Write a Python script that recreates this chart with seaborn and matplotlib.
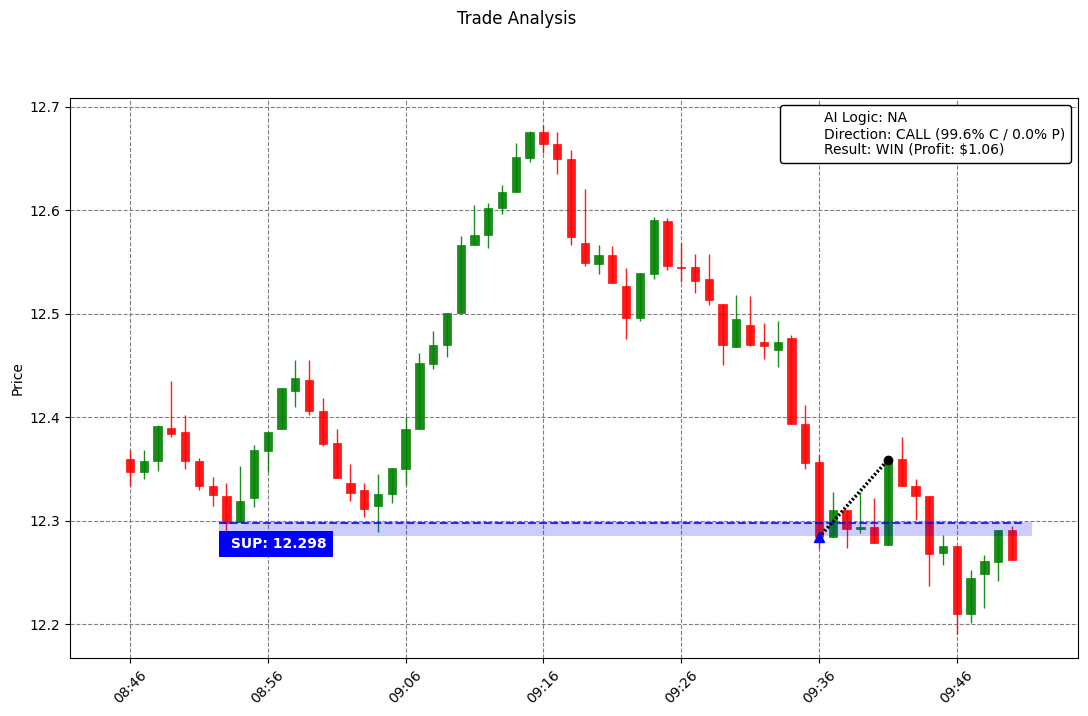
import datetime as dt
import pandas as pd
import numpy as np
import matplotlib
matplotlib.use('Agg')
import matplotlib.pyplot as plt
import matplotlib.dates as mdates
import seaborn as sns

# Dados das velas (1 minuto)
start_time = '2024-01-01 08:46'
opens = [12.360, 12.347, 12.358, 12.390, 12.386, 12.358, 12.334, 12.324, 12.299, 12.322,
         12.367, 12.389, 12.425, 12.436, 12.406, 12.375, 12.337, 12.330, 12.314, 12.326,
         12.350, 12.389, 12.452, 12.470, 12.501, 12.567, 12.576, 12.602, 12.618, 12.651,
         12.676, 12.664, 12.650, 12.569, 12.548, 12.557, 12.527, 12.496, 12.539, 12.590,
         12.545, 12.545, 12.534, 12.510, 12.468, 12.489, 12.473, 12.465, 12.477, 12.394,
         12.357, 12.284, 12.310, 12.292, 12.294, 12.277, 12.360, 12.334, 12.324, 12.269,
         12.276, 12.210, 12.249, 12.260, 12.291]
highs = [12.368, 12.368, 12.393, 12.435, 12.402, 12.361, 12.342, 12.337, 12.353, 12.373,
         12.386, 12.428, 12.455, 12.455, 12.419, 12.389, 12.355, 12.337, 12.345, 12.351,
         12.400, 12.462, 12.483, 12.501, 12.575, 12.605, 12.607, 12.625, 12.665, 12.677,
         12.683, 12.676, 12.658, 12.621, 12.567, 12.566, 12.544, 12.540, 12.594, 12.593,
         12.569, 12.558, 12.558, 12.510, 12.518, 12.517, 12.491, 12.493, 12.480, 12.412,
         12.364, 12.328, 12.310, 12.328, 12.322, 12.359, 12.381, 12.340, 12.324, 12.286,
         12.276, 12.252, 12.267, 12.291, 12.295]
lows = [12.334, 12.340, 12.348, 12.381, 12.350, 12.330, 12.314, 12.290, 12.299, 12.313,
        12.347, 12.389, 12.410, 12.402, 12.372, 12.341, 12.319, 12.304, 12.289, 12.317,
        12.335, 12.389, 12.447, 12.458, 12.501, 12.567, 12.564, 12.597, 12.618, 12.647,
        12.656, 12.635, 12.567, 12.546, 12.539, 12.530, 12.476, 12.493, 12.534, 12.542,
        12.531, 12.520, 12.509, 12.451, 12.468, 12.469, 12.456, 12.449, 12.394, 12.350,
        12.273, 12.284, 12.274, 12.288, 12.279, 12.277, 12.334, 12.301, 12.237, 12.257,
        12.191, 12.201, 12.216, 12.242, 12.262]
closes = [12.347, 12.358, 12.392, 12.384, 12.358, 12.334, 12.325, 12.298, 12.319, 12.368,
          12.386, 12.428, 12.438, 12.406, 12.374, 12.341, 12.327, 12.311, 12.326, 12.351,
          12.389, 12.453, 12.470, 12.501, 12.567, 12.576, 12.602, 12.618, 12.652, 12.676,
          12.664, 12.650, 12.574, 12.549, 12.557, 12.530, 12.496, 12.540, 12.591, 12.546,
          12.544, 12.532, 12.513, 12.470, 12.495, 12.470, 12.469, 12.473, 12.394, 12.356,
          12.284, 12.310, 12.292, 12.294, 12.279, 12.359, 12.334, 12.324, 12.268, 12.276,
          12.210, 12.245, 12.261, 12.291, 12.262]

# Suporte e trade
support_level = 12.298
support_zone = (12.2853, 12.2988)
entry_idx, exit_idx = 50, 55
entry_price, exit_price = 12.284, 12.359
legend_lines = ['AI Logic: NA',
                'Direction: CALL (99.6% C / 0.0% P)',
                'Result: WIN (Profit: $1.06)']

df = pd.DataFrame({'open': opens, 'high': highs, 'low': lows, 'close': closes})
df['time'] = pd.date_range(start_time, periods=len(df), freq='min').to_pydatetime()
t0 = df['time'].iloc[0]
minute = dt.timedelta(minutes=1)

fig = plt.figure(figsize=(10.88, 7.16), dpi=100)
ax = fig.add_axes([0.0646, 0.0806, 0.9262, 0.7821])
ax.set_axisbelow(True)

up = df['close'] >= df['open']
colors = np.where(up, 'green', 'red')
body_bottom = df[['open', 'close']].min(axis=1)
body_height = (df['close'] - df['open']).abs().clip(lower=0.0008)

ax.vlines(df['time'], df['low'], df['high'], colors=colors, linewidth=1, alpha=0.9, zorder=2)
ax.bar(df['time'], body_height, bottom=body_bottom, width=dt.timedelta(seconds=36),
       color=colors, edgecolor=colors, linewidth=0.5, alpha=0.9, zorder=2)

# Zona de suporte
x_sup0 = t0 + 6.47 * minute
ax.fill_between([x_sup0, t0 + 65.45 * minute], support_zone[0], support_zone[1],
                color='blue', alpha=0.2, linewidth=0, zorder=3)
ax.hlines(support_level, x_sup0, t0 + 64.7 * minute, colors='blue', linestyles='--',
          linewidth=1.5, alpha=0.8, zorder=3)
ax.annotate(' SUP: %.3f' % support_level, xy=(x_sup0, 12.2775), xytext=(4.8, 0),
            textcoords='offset points', color='white', fontweight='bold', fontsize=10,
            va='center', ha='left', zorder=6,
            bbox=dict(facecolor='blue', edgecolor='none', pad=4.6))

# Linha do trade
t_entry = df['time'].iloc[entry_idx]
t_exit = df['time'].iloc[exit_idx]
sns.lineplot(x=[t_entry, t_exit], y=[entry_price, exit_price], ax=ax, color='black',
             linewidth=2.5, dashes=False, zorder=4)
ax.lines[-1].set_dashes((0.6, 0.6))
ax.plot([t_entry], [entry_price], marker='^', color='blue', markersize=6.5, linestyle='none', zorder=5)
ax.plot([t_exit], [exit_price], marker='o', color='black', markersize=6, linestyle='none', zorder=5)

ax.plot([], [], ' ', label='\n'.join(legend_lines))
ax.legend(loc='upper right', edgecolor='black', framealpha=1, fontsize=10)

ax.set_xlim(t0 - 4.33 * minute, t0 + 68.79 * minute)
ax.set_ylim(12.1671, 12.7084)
ax.set_xticks(list(df['time'].iloc[::10]))
ax.xaxis.set_major_formatter(mdates.DateFormatter('%H:%M'))
plt.setp(ax.get_xticklabels(), rotation=45)
ax.grid(True, linestyle='--', color='gray', linewidth=0.8)
ax.set_ylabel('Price')
ax.set_xlabel('')
fig.suptitle('Trade Analysis', x=0.4752, y=0.986)

fig.savefig('out.png', dpi=100)
